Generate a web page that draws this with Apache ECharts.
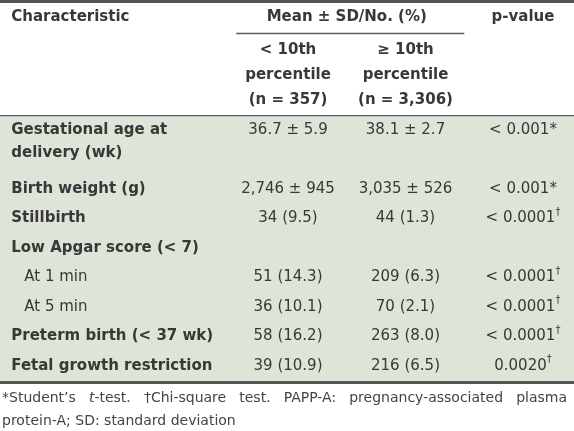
<!DOCTYPE html>
<html><head><meta charset="utf-8">
<script src="https://cdn.jsdelivr.net/npm/echarts@6/dist/echarts.min.js"></script>
<style>html,body{margin:0;padding:0;background:#fff}#c{width:574px;height:431px}</style>
</head><body><div id="c"></div>
<script>
// ---- table content ----
const columnKeys = ['Characteristic', 'gap', 'below10', 'above10', 'pValue'];
const headerTitle = 'Characteristic';
const groupTitle = 'Mean ± SD/No. (%)';
const pTitle = 'p-value';
const below10Header = ['< 10th', 'percentile', '(n = 357)'];
const above10Header = ['≥ 10th', 'percentile', '(n = 3,306)'];
const rowLabels = [
  ['Gestational age at', 'delivery (wk)'],
  ['Birth weight (g)'],
  ['Stillbirth'],
  ['Low Apgar score (< 7)'],
  ['At 1 min'],
  ['At 5 min'],
  ['Preterm birth (< 37 wk)'],
  ['Fetal growth restriction']
];
const rowIsSub = [false, false, false, false, true, true, false, false];
const below10Values = ['36.7 ± 5.9', '2,746 ± 945', '34 (9.5)', '', '51 (14.3)', '36 (10.1)', '58 (16.2)', '39 (10.9)'];
const above10Values = ['38.1 ± 2.7', '3,035 ± 526', '44 (1.3)', '', '209 (6.3)', '70 (2.1)', '263 (8.0)', '216 (6.5)'];
const pValues = ['< 0.001', '< 0.001', '< 0.0001', '', '< 0.0001', '< 0.0001', '< 0.0001', '0.0020'];
const pMarks = ['*', '*', '†', '', '†', '†', '†', '†'];
const footnoteLine1 = ['*Student’s', 't-test.', '†Chi-square', 'test.', 'PAPP-A:', 'pregnancy-associated', 'plasma'];
const footnoteLine2 = 'protein-A; SD: standard deviation';

// ---- styling ----
const FONT = '"DejaVu Sans", sans-serif';
const TXT = '#383838';
const FS = 15;

// body slots (one slot per text line)
const bodySlots = [];
const rowStart = [];
rowLabels.forEach((lines, i) => { rowStart.push(bodySlots.length); lines.forEach((l, k) => bodySlots.push('r' + i + '_' + k)); });

const bodyCells = [];
rowLabels.forEach((lines, i) => {
  bodyCells.push({ col: 0, slot: rowStart[i], text: lines.join('\n'), bold: !rowIsSub[i], sub: rowIsSub[i] });
  if (below10Values[i]) bodyCells.push({ col: 2, slot: rowStart[i], text: below10Values[i] });
  if (above10Values[i]) bodyCells.push({ col: 3, slot: rowStart[i], text: above10Values[i] });
  if (pValues[i]) bodyCells.push({ col: 4, slot: rowStart[i], text: pValues[i] + (pMarks[i] === '†' ? '{d|†}' : pMarks[i]) });
});

const headerCells = [
  { col: 0, slot: 0, text: headerTitle, top: true },
  { col: 2, slot: 0, text: groupTitle, top: true, group: true },
  { col: 4, slot: 0, text: pTitle, top: true }
];
below10Header.forEach((t, k) => headerCells.push({ col: 2, slot: k + 1, text: t }));
above10Header.forEach((t, k) => headerCells.push({ col: 3, slot: k + 1, text: t }));

const richD = { d: { fontSize: 10, fontFamily: FONT, fill: TXT, verticalAlign: 'top', lineHeight: 14 } };

function renderBody(params, api) {
  const cell = bodyCells[params.dataIndex];
  const p = api.coord([api.value(0), api.value(1)]);
  const bw = api.size([1, 0])[0];
  const lh = 23;
  let x = p[0], align = 'center';
  if (cell.col === 0) { x = p[0] - bw / 2 + 17 + (cell.sub ? 13 : 0); align = 'left'; }
  return {
    type: 'text', x: x, y: p[1] - lh / 2,
    style: {
      text: cell.text, fill: TXT, fontFamily: FONT, fontSize: FS,
      fontWeight: cell.bold ? 'bold' : 'normal',
      align: align, verticalAlign: 'top', lineHeight: lh, rich: richD
    }
  };
}

function renderHeader(params, api) {
  const cell = headerCells[params.dataIndex];
  const p = api.coord([api.value(0), api.value(1)]);
  const bw = api.size([1, 0])[0];
  const y = cell.top ? p[1] - 8 : p[1];
  let x = p[0], align = 'center';
  if (cell.col === 0) { x = p[0] - bw / 2 + 17; align = 'left'; }
  if (cell.group) x = p[0] + bw / 2;
  const txt = {
    type: 'text', x: x, y: y,
    style: { text: cell.text, fill: TXT, fontFamily: FONT, fontSize: FS, fontWeight: 'bold', align: align, verticalAlign: 'middle' }
  };
  if (!cell.group) return txt;
  return {
    type: 'group',
    children: [txt, {
      type: 'line',
      shape: { x1: p[0] - bw / 2 + 7, y1: p[1] + 8.5, x2: p[0] + bw * 1.5, y2: p[1] + 8.5 },
      style: { stroke: '#5a5a5a', lineWidth: 1.3 }
    }]
  };
}

// justify first footnote line
const ctx = document.createElement('canvas').getContext('2d');
const FN_FS = 14;
ctx.font = FN_FS + 'px "DejaVu Sans"';
const targetW = 565;
const wordsW = footnoteLine1.reduce((s, w) => s + ctx.measureText(w).width, 0);
const gap = (targetW - wordsW) / (footnoteLine1.length - 1);
const fnRich = {
  g: { width: gap, fontSize: FN_FS, fontFamily: FONT },
  i: { fontStyle: 'italic', fontSize: FN_FS, fontFamily: FONT, fill: '#444' }
};
const fn1Text = footnoteLine1.map(w => w === 't-test.' ? '{i|t}-test.' : w).join('{g| }');

const chart = echarts.init(document.getElementById('c'), null, { renderer: 'canvas' });
chart.setOption({
  animation: false,
  backgroundColor: '#ffffff',
  grid: [
    { left: -5.75, width: 587.5, top: 12.5, height: 100, show: false, outerBoundsMode: 'none', containLabel: false },
    { left: -5.75, width: 587.5, top: 115.25, height: 265.5, show: true, backgroundColor: '#dee4d7', borderWidth: 0, outerBoundsMode: 'none', containLabel: false }
  ],
  xAxis: [
    { type: 'category', gridIndex: 0, data: columnKeys, show: false },
    { type: 'category', gridIndex: 1, data: columnKeys, show: false }
  ],
  yAxis: [
    { type: 'category', gridIndex: 0, data: ['h0', 'h1', 'h2', 'h3'], inverse: true, show: false },
    { type: 'category', gridIndex: 1, data: bodySlots, inverse: true, show: false }
  ],
  series: [
    { type: 'custom', xAxisIndex: 0, yAxisIndex: 0, renderItem: renderHeader, data: headerCells.map(c => [c.col, c.slot]), encode: { x: 0, y: 1 }, clip: false },
    { type: 'custom', xAxisIndex: 1, yAxisIndex: 1, renderItem: renderBody, data: bodyCells.map(c => [c.col, c.slot]), encode: { x: 0, y: 1 }, clip: false }
  ],
  graphic: [
    { type: 'rect', left: 0, top: 115, shape: { width: 574, height: 118 }, style: { fill: 'none' }, silent: true, z: 0, invisible: true },
    { type: 'rect', x: 0, y: 0, shape: { width: 574, height: 3 }, style: { fill: '#555' }, z: 10 },
    { type: 'rect', x: 0, y: 115, shape: { width: 574, height: 1.3 }, style: { fill: '#5a5a5a' }, z: 10 },
    { type: 'rect', x: 0, y: 381, shape: { width: 574, height: 3 }, style: { fill: '#555' }, z: 10 },
    { type: 'text', x: 2, y: 398, style: { text: fn1Text, rich: fnRich, fontSize: FN_FS, fontFamily: FONT, fill: '#444', verticalAlign: 'middle' }, z: 10 },
    { type: 'text', x: 2, y: 421, style: { text: footnoteLine2, fontSize: FN_FS, fontFamily: FONT, fill: '#444', verticalAlign: 'middle' }, z: 10 }
  ]
});
</script></body></html>
